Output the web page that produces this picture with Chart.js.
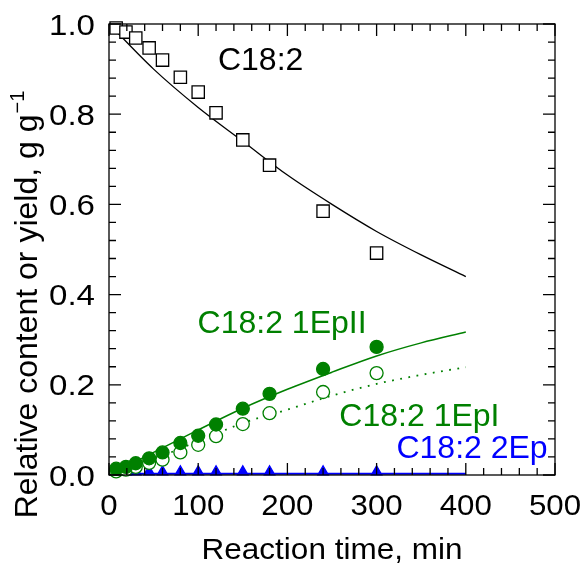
<!DOCTYPE html>
<html>
<head>
<meta charset="utf-8">
<script src="https://cdn.jsdelivr.net/npm/chart.js@4"></script>
<style>
  html, body { margin: 0; padding: 0; background: #fff; }
  #wrap { width: 588px; height: 565px; position: relative; }
</style>
</head>
<body>
<div id="wrap"><canvas id="chart"></canvas></div>
<script>
// sampling times (min) of the measured points
const sampleTimes = [8, 19, 30, 45, 60, 80, 100, 120, 150, 180, 240, 300];
// measured values, g g-1
const c182Measured   = [0.991, 0.982, 0.969, 0.947, 0.920, 0.882, 0.849, 0.803, 0.743, 0.687, 0.585, 0.492];
const ep1IIMeasured  = [0.014, 0.018, 0.026, 0.037, 0.050, 0.071, 0.087, 0.112, 0.147, 0.180, 0.235, 0.284];
const ep1IMeasured   = [0.008, 0.012, 0.018, 0.027, 0.034, 0.050, 0.067, 0.086, 0.113, 0.137, 0.184, 0.226];
const ep2Measured    = [0.007, 0.007, 0.007, 0.007, 0.007, 0.007, 0.007, 0.007, 0.007, 0.007, 0.007, 0.007];

// model curves
const fitTimes = [0, 50, 100, 150, 200, 250, 300, 350, 400];
const c182Fit  = [1.0, 0.90, 0.815, 0.74, 0.665, 0.60, 0.54, 0.488, 0.44];
const ep1IIFit = [0, 0.05, 0.10, 0.148, 0.19, 0.228, 0.264, 0.293, 0.317];
const ep1IFit  = [0, 0.035, 0.075, 0.115, 0.145, 0.176, 0.202, 0.222, 0.239];
const ep2Fit   = [0.003, 0.003, 0.003, 0.003, 0.003, 0.003, 0.003, 0.003, 0.003];

const xTickValues = [0, 100, 200, 300, 400, 500];
const yTickValues = [0.0, 0.2, 0.4, 0.6, 0.8, 1.0];

const GREEN = '#008000';
const BLUE = '#0000ff';
const FONT = '"Liberation Sans", Arial, sans-serif';

// curve labels, anchored in data units (time, value at text baseline)
const curveLabels = [
    { text: 'C18:2',       t: 170, v: 0.898, color: '#000' },
    { text: 'C18:2 1EpII', t: 194, v: 0.315, color: GREEN },
    { text: 'C18:2 1EpI',  t: 348, v: 0.109, color: GREEN },
    { text: 'C18:2 2Ep',   t: 407, v: 0.038, color: BLUE }
];

const pts = (xs, ys) => xs.map((x, i) => ({ x, y: ys[i] }));

function markerSet(data, style, fill, border, radius) {
    return {
        data,
        showLine: false,
        pointStyle: style,
        pointRadius: radius,
        pointBackgroundColor: fill,
        pointBorderColor: border,
        pointBorderWidth: 1.3,
        clip: false
    };
}

function curveSet(data, color, width, dash) {
    return {
        data,
        showLine: true,
        borderColor: color,
        borderWidth: width,
        borderDash: dash || [],
        pointRadius: 0,
        cubicInterpolationMode: 'monotone',
        fill: false
    };
}

// text with a horizontal stretch factor (the original glyphs are a bit wide)
function drawText(ctx, text, x, y, size, align, sx) {
    ctx.save();
    ctx.font = size + 'px ' + FONT;
    ctx.textAlign = align;
    ctx.textBaseline = 'alphabetic';
    ctx.translate(x, y);
    ctx.scale(sx, 1);
    ctx.fillText(text, 0, 0);
    ctx.restore();
}

// frame with inward ticks on all four sides
const framePlugin = {
    id: 'frame',
    afterDatasetsDraw(chart) {
        const { ctx, chartArea: a, scales: { x, y } } = chart;
        ctx.save();
        ctx.strokeStyle = '#000';
        ctx.lineWidth = 1.3;
        ctx.beginPath();
        for (let i = 0; i <= 25; i++) {
            const len = i % 5 === 0 ? 12 : 7;
            const px = x.getPixelForValue(i * 20);
            ctx.moveTo(px, a.bottom); ctx.lineTo(px, a.bottom - len);
            ctx.moveTo(px, a.top); ctx.lineTo(px, a.top + len);
            const py = y.getPixelForValue(i * 0.04);
            ctx.moveTo(a.left, py); ctx.lineTo(a.left + len, py);
            ctx.moveTo(a.right, py); ctx.lineTo(a.right - len, py);
        }
        ctx.stroke();
        ctx.strokeRect(a.left, a.top, a.right - a.left, a.bottom - a.top);
        ctx.restore();
    }
};

// tick labels, curve labels and axis titles
const textPlugin = {
    id: 'texts',
    afterDraw(chart) {
        const { ctx, chartArea: a, scales: { x, y } } = chart;
        ctx.save();
        ctx.fillStyle = '#000';
        xTickValues.forEach(v => drawText(ctx, String(v), x.getPixelForValue(v), a.bottom + 40, 30, 'center', 1.04));
        yTickValues.forEach(v => drawText(ctx, v.toFixed(1), a.left - 14, y.getPixelForValue(v) + 10.5, 29, 'right', 1.14));

        curveLabels.forEach(l => {
            ctx.fillStyle = l.color;
            drawText(ctx, l.text, x.getPixelForValue(l.t), y.getPixelForValue(l.v), 32, 'center', 1);
        });

        ctx.fillStyle = '#000';
        drawText(ctx, 'Reaction time, min', (a.left + a.right) / 2, 559, 30, 'center', 1.05);

        // y title with superscript
        const main = 'Relative content or yield, g g';
        const sup = '\u22121';
        ctx.font = '32px ' + FONT;
        const w1 = ctx.measureText(main).width;
        ctx.font = '20px ' + FONT;
        const w2 = ctx.measureText(sup).width;
        ctx.translate(37, 305);
        ctx.rotate(-Math.PI / 2);
        ctx.textAlign = 'left';
        ctx.textBaseline = 'alphabetic';
        const start = -(w1 + w2) / 2;
        ctx.font = '32px ' + FONT;
        ctx.fillText(main, start, 0);
        ctx.font = '20px ' + FONT;
        ctx.fillText(sup, start + w1 + 1, -13);
        ctx.restore();
    }
};

new Chart(document.getElementById('chart'), {
    type: 'scatter',
    data: {
        datasets: [
            markerSet(pts(sampleTimes, c182Measured), 'rect', '#fff', '#000', 8.7),
            markerSet(pts(sampleTimes, ep1IIMeasured), 'circle', GREEN, GREEN, 6.5),
            markerSet(pts(sampleTimes, ep1IMeasured), 'circle', '#fff', GREEN, 6.5),
            markerSet(pts(sampleTimes, ep2Measured), 'triangle', BLUE, BLUE, 6),
            curveSet(pts(fitTimes, c182Fit), '#000', 1.3),
            curveSet(pts(fitTimes, ep1IIFit), GREEN, 1.5),
            curveSet(pts(fitTimes, ep1IFit), GREEN, 1.8, [1.8, 6.5]),
            curveSet(pts(fitTimes, ep2Fit), BLUE, 2)
        ]
    },
    options: {
        responsive: true,
        maintainAspectRatio: false,
        animation: false,
        events: [],
        layout: { padding: { top: 24, right: 33, left: 0, bottom: 0 } },
        plugins: {
            legend: { display: false },
            tooltip: { enabled: false }
        },
        scales: {
            x: {
                type: 'linear',
                min: 0,
                max: 500,
                afterFit(scale) { scale.height = 90; },
                grid: { display: false, drawTicks: false },
                border: { display: false },
                ticks: { display: false }
            },
            y: {
                type: 'linear',
                min: 0,
                max: 1,
                afterFit(scale) { scale.width = 109; },
                grid: { display: false, drawTicks: false },
                border: { display: false },
                ticks: { display: false }
            }
        }
    },
    plugins: [framePlugin, textPlugin]
});
</script>
</body>
</html>
